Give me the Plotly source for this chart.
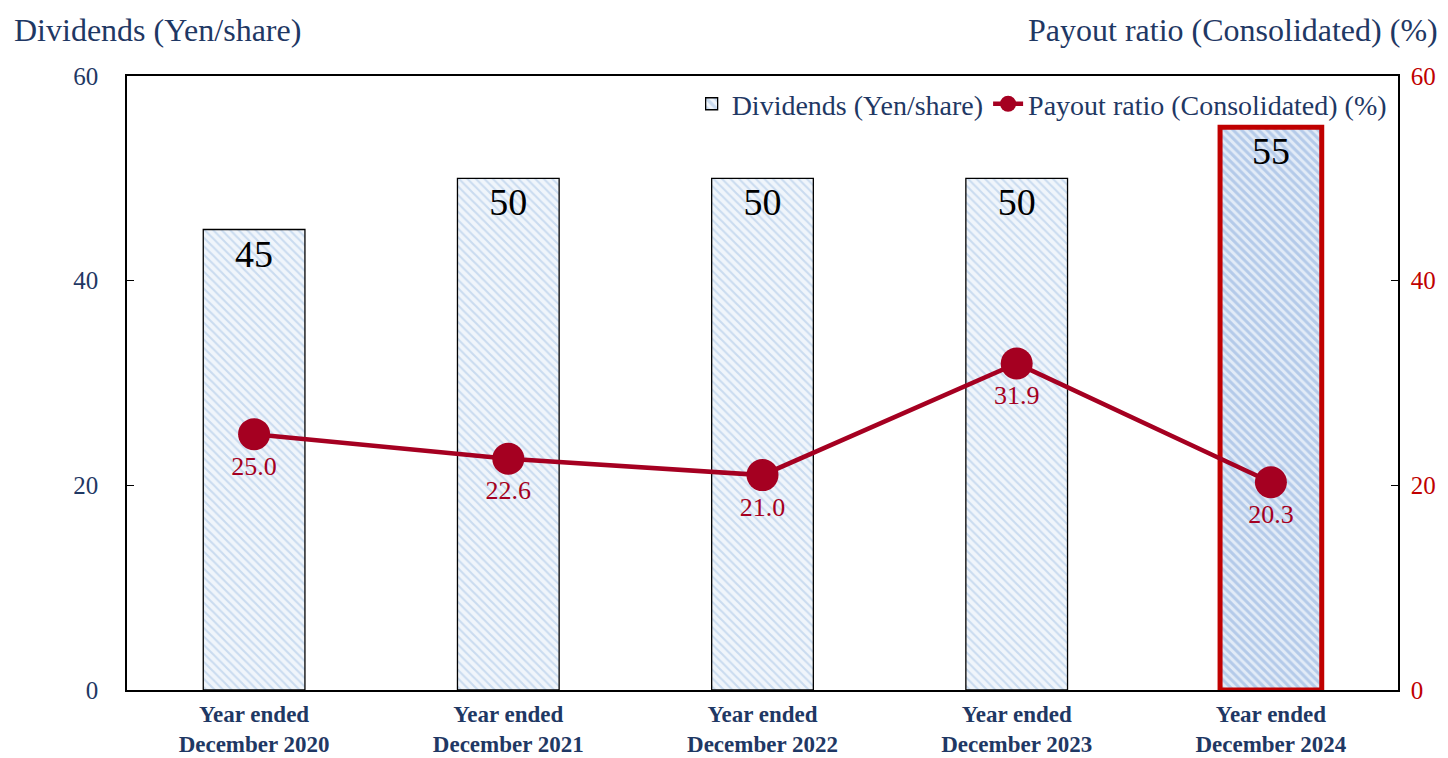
import plotly.graph_objects as go

FONT = "Liberation Serif, Times New Roman, serif"
NAVY = "#1f3864"
RED = "#c00000"
LINE_RED = "#a50021"

categories = [
    "<b>Year ended<br>December 2020</b>",
    "<b>Year ended<br>December 2021</b>",
    "<b>Year ended<br>December 2022</b>",
    "<b>Year ended<br>December 2023</b>",
    "<b>Year ended<br>December 2024</b>",
]
dividends = [45, 50, 50, 50, 55]
payout_ratio = [25.0, 22.6, 21.0, 31.9, 20.3]
y_ticks = [0, 20, 40, 60]

fig = go.Figure()

fig.add_trace(go.Bar(
    x=categories,
    y=dividends,
    name="Dividends (Yen/share)",
    width=0.4,
    text=[str(v) for v in dividends],
    textposition="inside",
    insidetextanchor="end",
    textfont=dict(family=FONT, size=38, color="black"),
    marker=dict(
        color="#e4eef8",
        line=dict(color=["black"] * 4 + [RED], width=[1.3] * 4 + [5]),
        pattern=dict(
            shape="\\",
            fgcolor=["#a3c1e4"] * 4 + ["#86aadb"],
            bgcolor=["#f0f5fb"] * 4 + ["#e2ebf7"],
            size=[6] * 4 + [6],
            solidity=[0.35] * 4 + [0.5],
            fillmode="overlay",
        ),
    ),
    yaxis="y",
))

fig.add_trace(go.Scatter(
    x=categories,
    y=payout_ratio,
    name="Payout ratio (Consolidated) (%)",
    mode="lines+markers+text",
    line=dict(color=LINE_RED, width=4.5),
    marker=dict(color=LINE_RED, size=32),
    text=[f"{v:.1f}" for v in payout_ratio],
    textposition="bottom center",
    textfont=dict(family=FONT, size=26, color=LINE_RED),
    yaxis="y2",
))

fig.update_layout(
    width=1440,
    height=750,
    margin=dict(l=119, r=50, t=68, b=68, autoexpand=False),
    paper_bgcolor="white",
    plot_bgcolor="white",
    font=dict(family=FONT, size=24, color=NAVY),
    showlegend=True,
    legend=dict(
        orientation="h",
        x=0.995, xanchor="right",
        y=0.995, yanchor="top",
        font=dict(family=FONT, size=28, color=NAVY),
        bgcolor="rgba(0,0,0,0)",
        itemwidth=30,
    ),
    xaxis=dict(
        showline=True, linecolor="black", linewidth=1.5,
        mirror=True, automargin=False,
        tickfont=dict(family=FONT, size=23, color=NAVY),
        ticks="",
        ticklabelstandoff=3,
    ),
    yaxis=dict(
        range=[0, 60], tickvals=y_ticks,
        showgrid=False, zeroline=False, automargin=False,
        showline=True, linecolor="black", linewidth=1.5,
        ticks="inside", ticklen=7, tickcolor="black",
        tickfont=dict(family=FONT, size=25, color=NAVY),
        ticklabelstandoff=22,
    ),
    yaxis2=dict(
        range=[0, 60], tickvals=y_ticks,
        overlaying="y", side="right",
        showgrid=False, zeroline=False, automargin=False,
        showline=True, linecolor="black", linewidth=1.5,
        ticks="inside", ticklen=7, tickcolor="black",
        tickfont=dict(family=FONT, size=25, color=RED),
        ticklabelstandoff=6,
    ),
    annotations=[
        dict(text="Dividends (Yen/share)", x=0, xref="paper", xshift=-115,
             y=1, yref="paper", yshift=46, xanchor="left", yanchor="middle",
             showarrow=False, font=dict(family=FONT, size=32, color=NAVY)),
        dict(text="Payout ratio (Consolidated) (%)", x=1, xref="paper", xshift=42,
             y=1, yref="paper", yshift=46, xanchor="right", yanchor="middle",
             showarrow=False, font=dict(family=FONT, size=32, color=NAVY)),
    ],
)

fig.write_html("out.html")
